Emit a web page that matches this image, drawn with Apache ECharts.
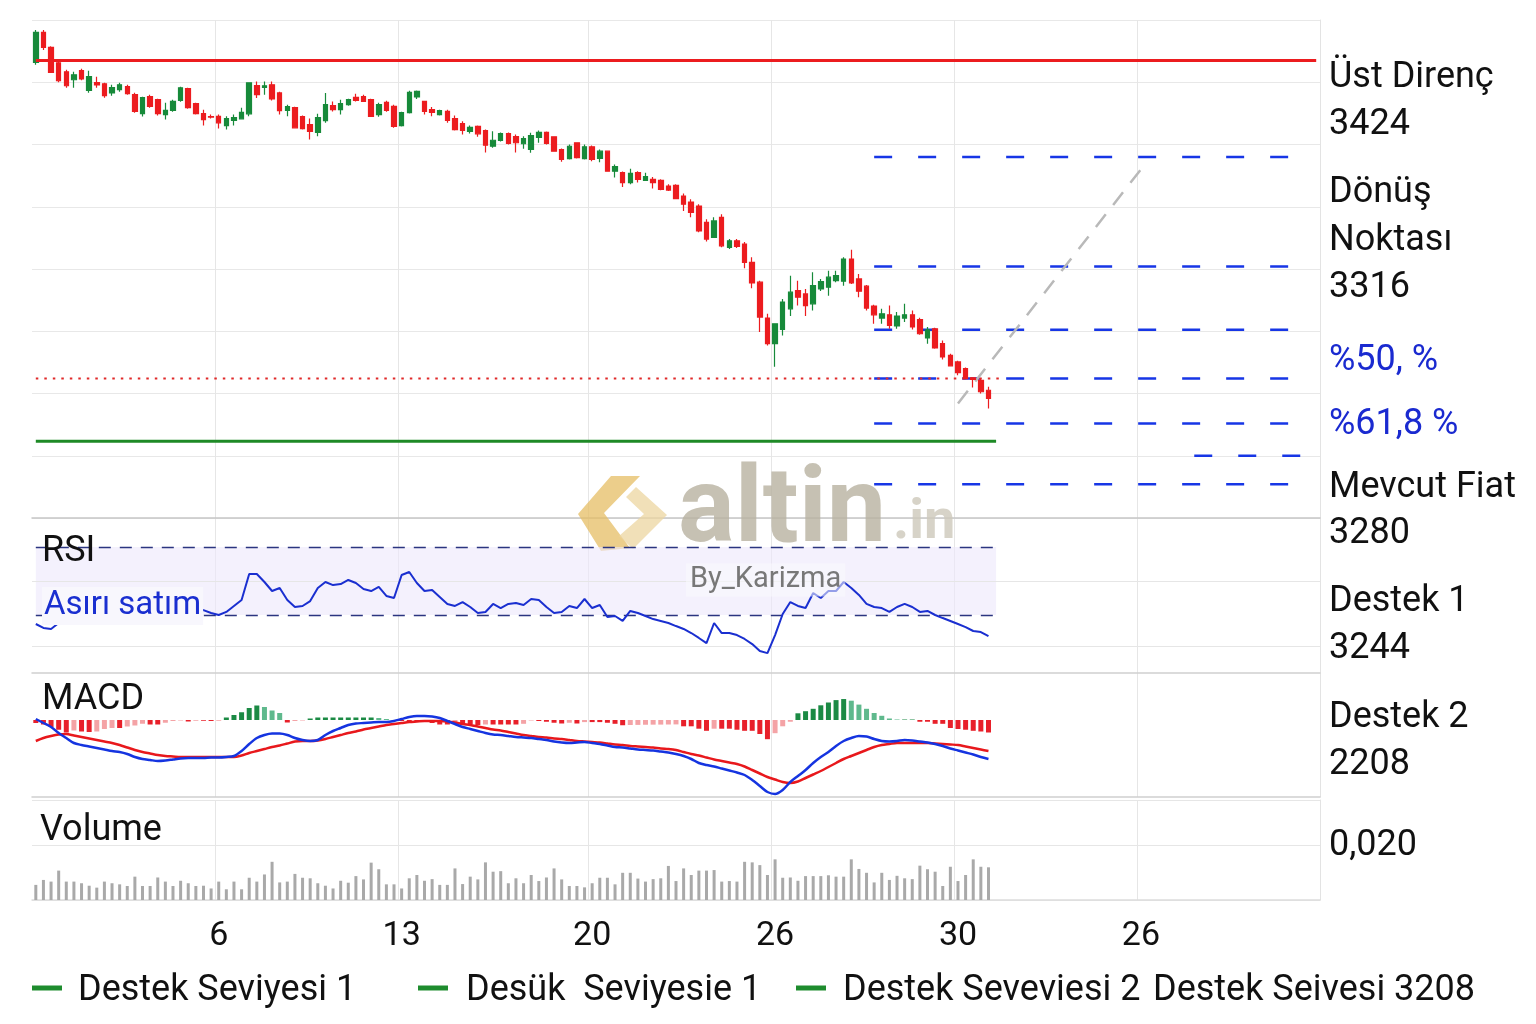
<!DOCTYPE html>
<html><head><meta charset="utf-8">
<script src="https://cdn.jsdelivr.net/npm/echarts@6/dist/echarts.min.js"></script>
<style>html,body{margin:0;padding:0;background:#fff}#c{width:1536px;height:1024px}</style>
</head><body><div id="c"></div>
<script>
// ---------------- data ----------------
const slotCount = 169;                       // category slots across the chart (candles + empty future area)
const xTickIndex = [24, 48, 73, 97, 121, 145];
const xTickLabels = ['6', '13', '20', '26', '30', '26'];

// [open, close, low, high]
const candles = [
[3423,3435,3422,3436],[3435,3429,3428,3436],[3429,3419,3418.8,3429.5],[3422.8,3415.6,3415,3423.5],[3419.2,3413.6,3412.8,3420],
[3416,3418,3412.8,3419.2],[3419.7,3416.3,3415.8,3420.4],[3411.7,3417.3,3410.8,3419.6],[3414.9,3413.9,3412.8,3417.2],[3414.4,3409.6,3408.8,3414.8],
[3410.7,3412.9,3409.6,3414],[3412,3414,3411.2,3414.8],[3413.3,3410.4,3410,3414],[3410,3403.3,3402.8,3410.8],[3402.4,3408.8,3401.2,3409.2],
[3409.2,3405.3,3404.8,3410],[3408,3402.4,3401.6,3408.4],[3402,3403.7,3400,3406.8],[3403.7,3407.3,3403.2,3408],[3407.7,3412.8,3407.2,3413.2],
[3412.4,3404.8,3404.4,3412.8],[3406.4,3402.4,3402,3406.8],[3402.4,3400,3397.6,3404],[3401.2,3401,3400.4,3402],[3401.3,3398.7,3396.4,3402],
[3397.6,3400.4,3396,3401.3],[3399.7,3400.8,3397.6,3402],[3400.3,3402.9,3400,3404.8],[3402.3,3414.8,3401.3,3414.9],[3413.7,3410,3408.7,3415.3],
[3412.9,3413.6,3410,3415.3],[3414,3408.3,3407.7,3415.3],[3410.7,3403.6,3402,3411.2],[3403.7,3405.2,3401.3,3406],[3404.8,3396.7,3396.4,3405.2],
[3401.2,3396.4,3396,3401.6],[3398,3395.3,3392,3400.4],[3394.9,3400.8,3393.3,3402.3],[3399.6,3406,3398.7,3410.7],[3405.6,3404,3403.3,3407.3],
[3404,3406.4,3402,3408],[3406,3408,3405.6,3408.4],[3408.9,3407.7,3407.3,3410.4],[3409.2,3407.3,3407.2,3410],[3408,3401.3,3401.2,3408.4],
[3402,3406,3401.1,3406.8],[3406.9,3403.7,3403.2,3407.6],[3405.3,3397.3,3396.7,3406],[3397.6,3402.8,3397.2,3403.2],[3402.8,3410.9,3402.4,3411.6],
[3409.1,3411.3,3408.3,3411.7],[3407.3,3403.3,3402,3407.6],[3404,3402.9,3401.3,3405.1],[3402,3403.6,3401.6,3404],[3403.3,3399.7,3398.7,3404],
[3400.4,3396,3395.6,3401.6],[3398.4,3395.7,3394,3399.3],[3395.3,3396.9,3394.4,3397.6],[3397.3,3394.3,3393.1,3397.6],[3395.6,3389.7,3386.8,3396],
[3389.3,3391.7,3388.7,3395.3],[3391.6,3394.4,3391.2,3394.8],[3394.4,3390.4,3390,3394.8],[3393.2,3390.7,3386.8,3394],[3390.3,3392.4,3388.3,3393.3],
[3388,3393.6,3386.7,3394.7],[3392.9,3394.9,3390.7,3395.6],[3394.9,3390.4,3390,3395.2],[3393.1,3387.3,3387.1,3393.2],[3388,3384,3383.1,3388.4],
[3384.3,3389.3,3384,3390],[3390.7,3384.7,3384.4,3390.9],[3384.3,3389.1,3384,3390],[3389.1,3384,3383.3,3389.6],[3384.4,3387.3,3382.9,3388],
[3387.3,3379.3,3379.1,3387.6],[3379.3,3381.1,3376.7,3382],[3378.7,3374.7,3372.9,3379.2],[3374.7,3378.4,3374,3380.3],[3378.7,3376,3374.7,3379.3],
[3375.6,3377.1,3375.3,3378.7],[3376,3374.7,3372.3,3376.9],[3375.6,3372,3371.6,3376],[3373.3,3371.7,3371.3,3374],[3373.6,3368.3,3368,3374],
[3369.3,3366,3363.3,3370.3],[3366.9,3362.7,3360.8,3368],[3365.3,3355.3,3354.8,3366],[3358.7,3352,3351,3360],[3352.7,3359.3,3352.4,3360.8],
[3360.7,3349.3,3348.7,3362],[3348.7,3351.3,3348,3352],[3351.3,3349.1,3348.4,3352],[3350,3342.7,3340.3,3350.8],[3342.7,3334.4,3332.3,3344.7],
[3334.7,3320.7,3314.7,3335.3],[3320.3,3310,3309.3,3322],[3310,3318,3300.7,3318.2],[3315.7,3326.7,3313.3,3328],[3324,3330.7,3321.1,3337.3],
[3331.3,3328.7,3325.3,3335.3],[3330,3325.3,3321.1,3332],[3326,3333.3,3323.3,3338.7],[3332,3334.9,3331.2,3336],[3332.7,3336.7,3329.3,3339.3],
[3335.3,3337.3,3334.7,3339.3],[3335.1,3344,3333.3,3344.7],[3344,3334.4,3334,3347.7],[3336,3331.1,3328.7,3338],[3333.1,3324.3,3323.3,3333.6],
[3325.1,3321.6,3318,3325.6],[3320.3,3322,3318,3324],[3321.6,3317.3,3316,3325.3],[3317.1,3321.1,3316,3322.7],[3320.3,3321.6,3318.7,3326],
[3321.6,3316.7,3315.7,3323.3],[3319.7,3314,3313.6,3320.4],[3312.3,3315.6,3310,3316.7],[3316,3308.3,3308,3316.4],[3310,3304.7,3303.7,3311.3],
[3305.3,3301.1,3300.8,3306],[3302.7,3298.4,3297.3,3303.2],[3300,3296,3295.6,3300.4],[3296.3,3295.7,3292.4,3296.4],[3295.3,3290.7,3290,3296],
[3291.3,3288,3284,3292.7]
];

const volumes = [
0.0055,0.0073,0.0067,0.0107,0.0067,0.0067,0.0061,0.0052,0.0045,0.0067,
0.0061,0.0057,0.0051,0.0085,0.0051,0.0051,0.0082,0.0067,0.0051,0.0070,
0.0061,0.0051,0.0052,0.0042,0.0067,0.0039,0.0067,0.0039,0.0081,0.0067,
0.0093,0.0139,0.0064,0.0067,0.0095,0.0081,0.0079,0.0061,0.0052,0.0042,
0.0070,0.0063,0.0087,0.0075,0.0136,0.0112,0.0057,0.0057,0.0042,0.0079,
0.0091,0.0070,0.0076,0.0055,0.0055,0.0115,0.0058,0.0085,0.0075,0.0137,
0.0103,0.0105,0.0061,0.0079,0.0061,0.0091,0.0069,0.0082,0.0115,0.0075,
0.0051,0.0051,0.0046,0.0061,0.0081,0.0081,0.0057,0.0099,0.0099,0.0078,
0.0067,0.0076,0.0079,0.0124,0.0069,0.0115,0.0091,0.0107,0.0107,0.0109,
0.0067,0.0069,0.0067,0.0139,0.0137,0.0127,0.0091,0.0148,0.0081,0.0082,
0.0070,0.0087,0.0087,0.0087,0.0090,0.0085,0.0085,0.0148,0.0113,0.0099,
0.0064,0.0099,0.0073,0.0088,0.0079,0.0076,0.0125,0.0112,0.0103,0.0051,
0.0121,0.0069,0.0091,0.0148,0.0121,0.0119
];

const rsi = [
24.7,22.4,21.8,25.3,28.2,29.4,30,28.8,30.6,29.4,
28.8,30,31.2,30,28.8,30,31.2,30.6,29.4,30.6,
31.8,32.4,32.9,31.2,30,31.8,35.3,38.8,54.1,54.1,
49.4,44.1,45.9,38.8,34.7,35.3,38.2,45.9,49.4,47.6,
48.2,50.6,48.8,45.3,44.1,46.5,41.2,40,53.5,55.3,
48.8,44.1,44.7,40.6,36.5,35.3,37.6,34.7,31.2,31.8,
36.5,34.1,36.5,37.1,35.9,39.4,38.8,34.7,31.2,31.8,
35.3,34.1,39.4,34.1,35.9,28.8,29.4,26.5,32.4,31.2,
29.4,27.6,26.5,25.3,23.5,21.8,19.4,16.5,13.5,25.3,
19.4,19.4,18.2,15.9,12.9,8.8,7.6,18.2,30.6,37.6,
35.3,34.1,42.9,40,44.1,44.1,49.4,45.9,41.8,36.5,
34.7,34.1,31.8,34.7,36.5,34.7,31.8,32.4,30,28.2,
26.5,24.7,22.9,20.6,20,17.6
];

const macdLine = [
0.2,-0.6,-1.4,-2.6,-3.6,-4.6,-5,-5.3,-5.6,-5.9,
-6.2,-6.4,-6.8,-7.4,-7.8,-8,-8.2,-8.1,-7.9,-7.7,
-7.6,-7.6,-7.6,-7.5,-7.5,-7.4,-7.2,-6.2,-4.8,-3.6,
-3,-2.7,-2.7,-3,-3.6,-4,-4.2,-4,-3,-2.2,
-1.6,-1,-0.7,-0.6,-0.5,-0.4,-0.4,-0.2,0.2,0.6,
0.8,0.8,0.7,0.4,-0.2,-0.8,-1.4,-1.8,-2.2,-2.6,
-2.9,-3,-3.2,-3.4,-3.5,-3.6,-3.8,-4,-4.3,-4.5,
-4.6,-4.5,-4.4,-4.6,-4.8,-5.1,-5.4,-5.5,-5.7,-5.9,
-6,-6.1,-6.3,-6.5,-6.8,-7.2,-7.8,-8.6,-9,-9.3,
-9.7,-10.1,-10.5,-11,-12,-13.2,-14.4,-14.8,-14,-12.4,
-11.2,-10,-8.6,-7.4,-6.4,-5.2,-4.2,-3.6,-3.2,-3.3,
-3.8,-4.2,-4.3,-4.2,-4,-4.1,-4.3,-4.5,-4.8,-5.2,
-5.7,-6.1,-6.5,-6.9,-7.4,-7.8
];

const signalLine = [
-4.2,-3.6,-3.2,-2.9,-2.8,-3.1,-3.4,-3.7,-4,-4.3,
-4.6,-5,-5.5,-6,-6.4,-6.7,-7,-7.2,-7.3,-7.4,
-7.4,-7.4,-7.4,-7.4,-7.4,-7.4,-7.4,-7.1,-6.6,-6.2,
-5.8,-5.4,-5.1,-4.7,-4.3,-4.2,-4.2,-4.1,-3.8,-3.4,
-3,-2.6,-2.3,-1.9,-1.6,-1.3,-1,-0.8,-0.6,-0.4,
-0.3,-0.2,-0.2,-0.2,-0.3,-0.5,-0.8,-1,-1.3,-1.6,
-1.9,-2.1,-2.4,-2.7,-3,-3.2,-3.4,-3.5,-3.7,-3.8,
-4,-4.2,-4.3,-4.4,-4.5,-4.7,-4.9,-5,-5.2,-5.3,
-5.4,-5.5,-5.7,-5.8,-6,-6.4,-6.8,-7.1,-7.5,-7.9,
-8.2,-8.5,-8.8,-9.3,-10,-10.7,-11.4,-11.9,-12.4,-12.6,
-12.3,-11.6,-10.9,-10.2,-9.4,-8.6,-7.8,-7.2,-6.6,-6,
-5.4,-5,-4.8,-4.6,-4.6,-4.6,-4.6,-4.6,-4.7,-4.8,
-4.9,-5,-5.3,-5.6,-5.9,-6.2
];

const macdHist = [
-0.6,-0.9,-1.4,-1.95,-2.5,-2.1,-2.3,-2.4,-2.3,-1.8,
-1.6,-1.6,-1.3,-1.1,-0.75,-0.9,-0.9,-0.55,-0.2,-0.1,
-0.3,-0.15,-0.15,-0.2,-0.15,0.5,1.0,1.55,2.4,2.9,
2.6,1.9,1.4,-0.5,-0.2,-0.1,0.3,0.5,0.5,0.5,
0.5,0.5,0.5,0.5,0.5,0.4,0.2,-0.1,-0.2,-0.2,
-0.3,-0.4,-0.6,-0.9,-0.9,-0.7,-0.9,-0.9,-1.0,-0.9,
-0.9,-0.9,-0.9,-0.9,-0.76,-0.1,-0.2,-0.35,-0.55,-0.7,
-0.55,-0.7,-0.42,-0.42,-0.42,-0.55,-0.76,-1.05,-1.0,-0.98,
-0.95,-0.93,-0.92,-0.9,-0.88,-1.26,-1.26,-1.74,-2.16,-1.74,
-1.74,-1.74,-1.95,-2.16,-2.16,-2.8,-3.84,-2.64,-1.26,-0.35,
1.34,1.76,2.24,2.94,3.5,3.98,4.19,3.86,3.08,2.24,
1.4,0.84,0.3,0.1,0.1,0.1,-0.35,-0.35,-0.76,-0.76,
-1.6,-1.8,-1.95,-2.16,-2.3,-2.5
];

const resistanceLevel = 3424;
const currentPrice = 3296;
const supportLevel = 3270.8;
const fibLevels = [3385, 3341, 3315.6, 3296, 3278, 3253.6];
const fibPartialLevel = 3265;
const fibStartIdx = 110, fibEndIdx = 167, fibPartialStartIdx = 152;
const trendPoints = [[121, 3286], [145, 3380]];
const rsiUpper = 70, rsiLower = 30, rsiGridLevels = [50, 11.8];

const sideLabels = [
  ['Üst Direnç', 78, false], ['3424', 125, false], ['Dönüş', 193, false], ['Noktası', 241, false],
  ['3316', 288, false], ['%50, %', 361, true], ['%61,8 %', 425, true], ['Mevcut Fiat', 488, false],
  ['3280', 534, false], ['Destek 1', 602, false], ['3244', 649, false], ['Destek 2', 718, false],
  ['2208', 765, false], ['0,020', 846, false]
];
const legendItems = [
  ['Destek Seviyesi 1', 32, 78, true], ['Desük  Seviyesie 1', 418, 466, true],
  ['Destek Seveviesi 2', 796, 843, true], ['Destek Seivesi 3208', 0, 1153, false]
];

// ---------------- chart ----------------
const FONT = 'Roboto, "Noto Sans", sans-serif';
const RED = '#ec1c1f', GREEN = '#178a3a', BLUE = '#1736e6';
const slots = Array.from({length: slotCount}, (_, i) => String(i));
const isTick = (i) => xTickIndex.indexOf(i) >= 0;
const gridLine = {show: true, interval: (i) => isTick(i), lineStyle: {color: '#e6e6e6', width: 1}};

function xAxisFor(gi, lineColor, showLabels) {
  return {
    type: 'category', gridIndex: gi, data: slots, boundaryGap: true,
    axisTick: {show: false},
    axisLine: {show: !!lineColor, onZero: false, lineStyle: {color: lineColor || '#ccc', width: 1.5}},
    axisLabel: showLabels ? {
      show: true, interval: (i) => isTick(i), margin: 19, fontSize: 34, color: '#111', fontFamily: FONT,
      formatter: (v) => { const k = xTickIndex.indexOf(Number(v)); return k >= 0 ? xTickLabels[k] : ''; }
    } : {show: false},
    splitLine: gridLine
  };
}
function yAxisFor(gi, extra) {
  return Object.assign({
    type: 'value', gridIndex: gi, position: 'right', scale: true,
    axisLine: {show: true, lineStyle: {color: '#e3e3e3'}},
    axisTick: {show: false}, axisLabel: {show: false},
    splitLine: {show: false}
  }, extra);
}
function seg(name, pts, color, width, type, xi, yi, z) {
  return {name, type: 'line', xAxisIndex: xi || 0, yAxisIndex: yi || 0, data: pts, symbol: 'none',
    silent: true, z: z || 3, animation: false, lineStyle: {color, width, type}};
}

const series = [];
series.push({
  name: 'Fiyat', type: 'candlestick', xAxisIndex: 0, yAxisIndex: 0, data: candles, barWidth: 5, z: 4,
  itemStyle: {color: GREEN, color0: RED, borderColor: GREEN, borderColor0: RED, borderWidth: 1.2},
  markLine: {symbol: 'none', silent: true, label: {show: false}, animation: false,
    data: [[{coord: [0, resistanceLevel], lineStyle: {color: RED, width: 3, type: 'solid'}}, {coord: [slotCount - 1, resistanceLevel]}]]}
});
fibLevels.forEach((lv, k) => series.push(seg('Fib' + k, [[fibStartIdx, lv], [fibEndIdx, lv]], BLUE, 2.5, [18, 26])));
series.push(seg('FibPartial', [[fibPartialStartIdx, fibPartialLevel], [fibEndIdx, fibPartialLevel]], BLUE, 2.5, [18, 26]));
series.push(seg('Mevcut', [[0, currentPrice], [127, currentPrice]], '#e02a2a', 2, [2.5, 6]));
series.push(seg('Destek Seviyesi 1', [[0, supportLevel], [126, supportLevel]], '#1e8a26', 3, 'solid'));
series.push(seg('Trend', trendPoints, '#b9b9b9', 2.5, [16, 12]));

series.push({
  name: 'RSI', type: 'line', xAxisIndex: 1, yAxisIndex: 1, data: rsi, symbol: 'none', z: 5,
  lineStyle: {color: '#1a2fd0', width: 2}, animation: false,
  markArea: {silent: true, itemStyle: {color: 'rgba(236,231,252,0.6)'},
    data: [[{coord: [0, rsiLower]}, {coord: [126, rsiUpper]}]]},
  markLine: {symbol: 'none', silent: true, label: {show: false}, animation: false,
    data: [
      {yAxis: rsiGridLevels[0], lineStyle: {color: '#e6e6e6', width: 1, type: 'solid'}},
      {yAxis: rsiGridLevels[1], lineStyle: {color: '#e6e6e6', width: 1, type: 'solid'}},
      [{coord: [0, rsiUpper], lineStyle: {color: '#2b3580', width: 1.3, type: [12, 9]}}, {coord: [126, rsiUpper]}],
      [{coord: [0, rsiLower], lineStyle: {color: '#2b3580', width: 1.3, type: [12, 9]}}, {coord: [126, rsiLower]}]
    ]}
});

series.push({
  name: 'Histogram', type: 'bar', xAxisIndex: 2, yAxisIndex: 2, data: macdHist, barWidth: 5, z: 3,
  animation: false,
  itemStyle: {color: (p) => {
    const v = macdHist[p.dataIndex], pv = p.dataIndex > 0 ? macdHist[p.dataIndex - 1] : 0;
    if (v < 0) return v <= pv ? '#e8202a' : '#f4a3a6';
    return v >= pv ? '#1b8a44' : '#5fb98d';
  }}
});
series.push({name: 'MACD', type: 'line', xAxisIndex: 2, yAxisIndex: 2, data: macdLine, symbol: 'none', smooth: 0.3,
  z: 5, animation: false, lineStyle: {color: '#1534e0', width: 2.5}});
series.push({name: 'Sinyal', type: 'line', xAxisIndex: 2, yAxisIndex: 2, data: signalLine, symbol: 'none', smooth: 0.3,
  z: 4, animation: false, lineStyle: {color: '#e8181c', width: 2.5}});

series.push({name: 'Volume', type: 'bar', xAxisIndex: 3, yAxisIndex: 3, data: volumes, barWidth: 3,
  animation: false, itemStyle: {color: '#a9a9a9'}});

// ---------------- graphics (titles, side labels, legend, watermark) ----------------
const g = [];
const txt = (x, y, text, size, color, extra, z) => ({type: 'text', x, y, z: z || 50, silent: true,
  style: Object.assign({text, fontSize: size, fontFamily: FONT, fill: color, align: 'left', verticalAlign: 'middle'}, extra || {})});

// watermark
g.push({type: 'polygon', z: 1, silent: true, shape: {points: [[611, 476], [640, 476], [604, 513], [630, 548], [601, 551], [578, 514]]},
  style: {fill: 'rgba(229,190,100,0.75)'}});
g.push({type: 'polygon', z: 1, silent: true, shape: {points: [[636, 487], [667, 515], [633, 549], [619, 536], [644, 514], [626, 497]]},
  style: {fill: 'rgba(236,214,160,0.75)'}});
g.push(txt(678, 514, 'altin', 106, 'rgba(184,178,160,0.8)', {fontWeight: 'bold'}, 1));
g.push(txt(893, 524, '.in', 56, 'rgba(205,200,186,0.8)', {fontWeight: 'bold'}, 1));
g.push(txt(686, 580, 'By_Karizma', 29, '#787878', {backgroundColor: 'rgba(250,249,254,0.55)', padding: [2, 4]}, 6));

// panel titles
g.push(txt(42, 552, 'RSI', 36, '#111'));
g.push(txt(42, 606, 'Asırı satım', 33, '#1a2fd0', {backgroundColor: '#f8f7fd', padding: [1, 2], lineHeight: 36}));
g.push(txt(42, 700, 'MACD', 36, '#111'));
g.push(txt(40, 831, 'Volume', 36, '#111'));

// side labels
sideLabels.forEach(([t, y, blue]) => g.push(txt(1329, y, t, 36, blue ? '#1a2ad0' : '#111')));

// legend
legendItems.forEach(([t, mx, tx, mark]) => {
  if (mark) g.push({type: 'rect', z: 50, silent: true, shape: {x: mx, y: 985.5, width: 30, height: 5}, style: {fill: '#1e8c2e'}});
  g.push(txt(tx, 991, t, 36, '#111'));
});

const option = {
  animation: false,
  backgroundColor: '#ffffff',
  grid: [
    {left: 32, width: 1288, top: 20, height: 498},
    {left: 32, width: 1288, top: 516, height: 157},
    {left: 32, width: 1288, top: 673, height: 124},
    {left: 32, width: 1288, top: 800, height: 100}
  ],
  xAxis: [
    xAxisFor(0, '#c6c6c6', false),
    xAxisFor(1, '#d0d0d0', false),
    xAxisFor(2, '#cfcfcf', false),
    xAxisFor(3, '#dddddd', true)
  ],
  yAxis: [
    yAxisFor(0, {scale: false, min: 3240, max: 3440, interval: 25, splitLine: {show: true, lineStyle: {color: '#e8e8e8'}}}),
    yAxisFor(1, {scale: false, min: -4.1, max: 88.2}),
    yAxisFor(2, {scale: false, min: -15.4, max: 9.4}),
    yAxisFor(3, {scale: false, min: 0, max: 0.0364, interval: 0.02, splitLine: {show: true, lineStyle: {color: '#e6e6e6'}}})
  ],
  series,
  graphic: g
};

const chart = echarts.init(document.getElementById('c'), null, {renderer: 'canvas'});
chart.setOption(option);
</script>
</body></html>
